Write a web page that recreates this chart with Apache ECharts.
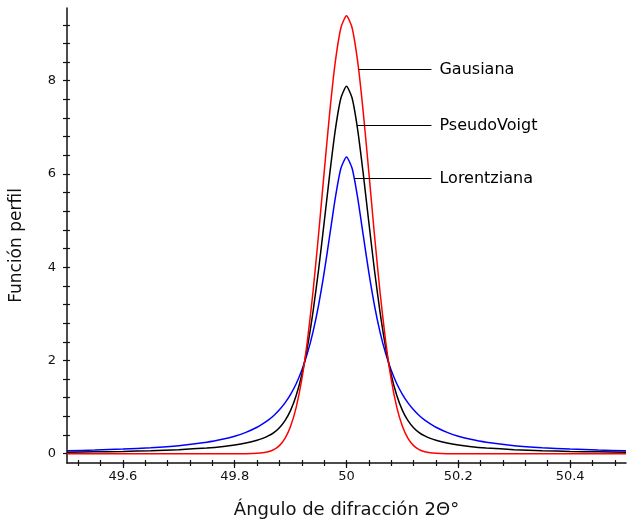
<!DOCTYPE html>
<html>
<head>
<meta charset="utf-8">
<script src="https://cdn.jsdelivr.net/npm/echarts@6/dist/echarts.min.js"></script>
<style>
html,body{margin:0;padding:0;background:#fff;}
#chart{width:627px;height:525px;}
</style>
</head>
<body>
<div id="chart"></div>
<script>
// Diffraction angle 2θ (degrees)
const angles = [49.5, 49.55, 49.6, 49.65, 49.7, 49.75, 49.78, 49.8, 49.82, 49.84, 49.85, 49.86, 49.87, 49.88, 49.89,
  49.9, 49.91, 49.92, 49.93, 49.94, 49.95, 49.96, 49.97, 49.98, 49.99, 50,
  50.01, 50.02, 50.03, 50.04, 50.05, 50.06, 50.07, 50.08, 50.09, 50.1,
  50.11, 50.12, 50.13, 50.14, 50.15, 50.16, 50.18, 50.2, 50.22, 50.25, 50.3, 50.35, 50.4, 50.45, 50.5];
const gaussian = [0, 0, 0, 0, 0, 0, 0, 0, 0.001, 0.008, 0.018, 0.041, 0.087, 0.173, 0.328,
  0.587, 0.994, 1.593, 2.415, 3.462, 4.697, 6.028, 7.320, 8.408, 9.137, 9.394,
  9.137, 8.408, 7.320, 6.028, 4.697, 3.462, 2.415, 1.593, 0.994, 0.587,
  0.328, 0.173, 0.087, 0.041, 0.018, 0.008, 0.001, 0, 0, 0, 0, 0, 0, 0, 0];
const pseudoVoigt = [0.032, 0.039, 0.049, 0.064, 0.086, 0.123, 0.156, 0.187, 0.229, 0.287, 0.328, 0.381, 0.453, 0.558, 0.709,
  0.930, 1.248, 1.691, 2.283, 3.036, 3.940, 4.955, 6.001, 6.948, 7.629, 7.880,
  7.629, 6.948, 6.001, 4.955, 3.940, 3.036, 2.283, 1.691, 1.248, 0.930,
  0.709, 0.558, 0.453, 0.381, 0.328, 0.287, 0.229, 0.187, 0.156, 0.123, 0.086, 0.064, 0.049, 0.039, 0.032];
const lorentzian = [0.063, 0.078, 0.098, 0.127, 0.172, 0.245, 0.313, 0.374, 0.456, 0.566, 0.637, 0.720, 0.820, 0.942, 1.090,
  1.273, 1.501, 1.788, 2.151, 2.609, 3.183, 3.882, 4.681, 5.488, 6.121, 6.366,
  6.121, 5.488, 4.681, 3.882, 3.183, 2.609, 2.151, 1.788, 1.501, 1.273,
  1.090, 0.942, 0.820, 0.720, 0.637, 0.566, 0.456, 0.374, 0.313, 0.245, 0.172, 0.127, 0.098, 0.078, 0.063];
const seriesNames = ['Gausiana', 'PseudoVoigt', 'Lorentziana'];
const xTickLabels = [49.6, 49.8, 50, 50.2, 50.4];
const yTickLabels = [0, 2, 4, 6, 8];
const xMinorTicks = [];
for (let k = 0; k <= 24; k++) xMinorTicks.push(Math.round((49.52 + 0.04 * k) * 100) / 100);
const yMinorTicks = [];
for (let k = 0; k <= 23; k++) yMinorTicks.push(Math.round(0.4 * k * 10) / 10);

const FONT = 'DejaVu Sans';
const XMIN = 49.5, XMAX = 50.5, YMIN = -0.2, YMAX = 9.56;

function pairs(ys) { return angles.map((x, i) => [x, ys[i]]); }

function xAx(extra) {
  return Object.assign({
    type: 'value', min: XMIN, max: XMAX, position: 'bottom',
    axisLine: { show: false, onZero: false },
    axisTick: { show: false },
    axisLabel: { show: false },
    splitLine: { show: false }
  }, extra);
}
function yAx(extra) {
  return Object.assign({
    type: 'value', min: YMIN, max: YMAX, position: 'left',
    axisLine: { show: false, onZero: false },
    axisTick: { show: false },
    axisLabel: { show: false },
    splitLine: { show: false }
  }, extra);
}

function annotation(name, xStart, y) {
  return {
    silent: true, animation: false, symbol: ['none', 'none'],
    lineStyle: { color: '#000', width: 1, type: 'solid' },
    label: { show: true, position: 'end', distance: 8, formatter: name, color: '#000', fontSize: 16, fontFamily: FONT },
    emphasis: { disabled: true },
    data: [[{ coord: [xStart, y] }, { coord: [50.152, y] }]]
  };
}

const chart = echarts.init(document.getElementById('chart'), null, { renderer: 'canvas' });
chart.setOption({
  backgroundColor: '#fff',
  animation: false,
  grid: { left: 66, right: 1, top: 8, bottom: 62, containLabel: false },
  xAxis: [
    xAx({
      axisLine: { show: true, onZero: false, lineStyle: { color: '#111', width: 1.5 } },
      axisTick: { show: true, customValues: xMinorTicks, length: 3, lineStyle: { color: '#111', width: 1.2 } },
      axisLabel: { show: true, customValues: xTickLabels, margin: 7, color: '#111', fontSize: 13, fontFamily: FONT },
      name: 'Ángulo de difracción 2Θ°', nameLocation: 'middle', nameGap: 38,
      nameTextStyle: { color: '#111', fontSize: 18, fontFamily: FONT }
    }),
    xAx({ axisTick: { show: true, inside: true, customValues: xMinorTicks, length: 3, lineStyle: { color: '#111', width: 1.2 } } }),
    xAx({ axisTick: { show: true, customValues: xTickLabels, length: 5, lineStyle: { color: '#111', width: 1.2 } } })
  ],
  yAxis: [
    yAx({
      axisLine: { show: true, onZero: false, lineStyle: { color: '#111', width: 1.5 } },
      axisTick: { show: true, customValues: yMinorTicks, length: 4, lineStyle: { color: '#111', width: 1.2 } },
      axisLabel: { show: true, customValues: yTickLabels, margin: 11, color: '#111', fontSize: 13, fontFamily: FONT },
      name: 'Función perfil', nameLocation: 'middle', nameGap: 42,
      nameTextStyle: { color: '#111', fontSize: 17, fontFamily: FONT, padding: [0, 20, 0, 0] }
    }),
    yAx({ axisTick: { show: true, inside: true, customValues: yMinorTicks, length: 3, lineStyle: { color: '#111', width: 1.2 } } })
  ],
  series: [
    { name: seriesNames[0], type: 'line', data: pairs(gaussian), showSymbol: false, smooth: 0.2,
      lineStyle: { color: '#ff0000', width: 1.5 }, itemStyle: { color: '#ff0000' },
      markLine: annotation(seriesNames[0], 50.022, 8.24), z: 3 },
    { name: seriesNames[1], type: 'line', data: pairs(pseudoVoigt), showSymbol: false, smooth: 0.2,
      lineStyle: { color: '#000000', width: 1.5 }, itemStyle: { color: '#000000' },
      markLine: annotation(seriesNames[1], 50.019, 7.04), z: 2 },
    { name: seriesNames[2], type: 'line', data: pairs(lorentzian), showSymbol: false, smooth: 0.2,
      lineStyle: { color: '#0000ff', width: 1.5 }, itemStyle: { color: '#0000ff' },
      markLine: annotation(seriesNames[2], 50.014, 5.90), z: 1 }
  ]
});
</script>
</body>
</html>
